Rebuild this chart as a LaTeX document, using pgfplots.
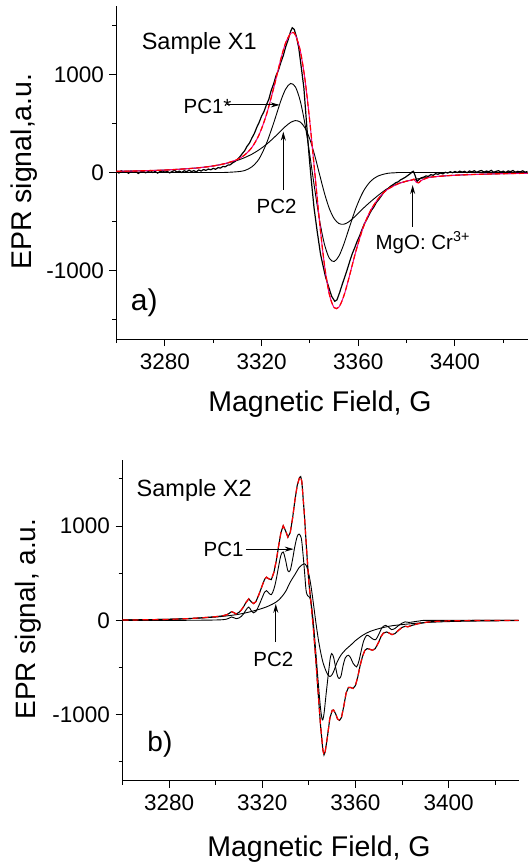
\documentclass[border=0pt]{standalone}
\usepackage{fontspec}
\setmainfont{Liberation Sans}
\usepackage{pgfplots}
\usepackage{pgfplotstable}
\pgfplotsset{compat=1.18}
\usetikzlibrary{arrows.meta}

% bottom panel: measured spectrum (the fit lies on top of it)
\pgfplotstableread{
x y
3260 3
3270 6
3280 11
3285 15
3290 21
3295 29
3300 39
3303 48
3305 62
3306 78
3306.8 92
3307.8 82
3308.8 68
3310 85
3311 110
3312 145
3313 190
3314.2 228
3315.3 196
3316.3 178
3317.3 200
3318.5 270
3320 370
3321 435
3321.8 458
3322.8 440
3323.9 432
3325 510
3326 630
3327 785
3328 930
3329 1003
3330 950
3331 882
3332 930
3333 1080
3334 1270
3335 1430
3336 1515
3336.5 1524
3337 1470
3338 1150
3339 760
3340 400
3341 170
3342 -100
3343 -420
3344 -770
3345 -1110
3346 -1370
3346.5 -1426
3347 -1395
3348 -1230
3349 -1040
3350 -955
3350.6 -950
3351.5 -990
3352.3 -1045
3353.2 -1060
3354 -1030
3355 -910
3356 -770
3357 -712
3358 -712
3359 -722
3360 -690
3361 -600
3362 -480
3363 -385
3364 -320
3365 -300
3366 -305
3367.3 -317
3368.5 -300
3370 -230
3371 -170
3372 -135
3373.4 -123
3374.5 -135
3375.7 -151
3377 -140
3378.5 -105
3380 -75
3381.3 -63
3382.5 -68
3384 -55
3387 -35
3391 -18
3395 -10
3400 -5
3410 -2
3420 -1
3430 0
}\expB

\pgfplotsset{
  eprpanel/.style={
    scale only axis,
    axis lines=left,
    axis line style={-, line width=1pt},
    xmin=3260, xmax=3430, ymin=-1700, ymax=1700,
    xtick={3280,3320,3360,3400},
    xticklabels={3280,3320,3360,3400},
    minor xtick={3260,3300,3340,3380,3420},
    ytick={-1000,0,1000},
    yticklabels={-1000,0,1000},
    minor ytick={-1500,-500,500,1500},
    tick align=outside,
    major tick length=7pt, minor tick length=4pt,
    tick style={black, line width=1pt},
    tick label style={font=\fontsize{22.5}{24}\selectfont},
    xticklabel style={yshift=-4pt},
    yticklabel style={xshift=-2pt},
    clip=false,
  },
  comp/.style={black, line width=0.9pt, smooth},
}

\begin{document}
\begin{tikzpicture}
\path[use as bounding box] (0pt,0pt) rectangle (529pt,-865pt);

% ---------- panel a ----------
\begin{axis}[eprpanel, width=411pt, height=333pt,
  at={(116.5pt,-339pt)}, anchor=south west]
% measured
\addplot[black, line width=1.2pt] coordinates {
(3260,12)(3261,-5)(3262,18)(3263,4)(3264,9)(3265,-8)(3266,15)(3267,2)(3268,10)(3269,-10)
(3270,6)(3271,14)(3272,-3)(3273,8)(3274,20)(3275,0)(3276,11)(3277,-6)(3278,9)(3279,16)
(3280,3)(3281,12)(3282,-4)(3283,10)(3284,22)(3285,5)(3286,14)(3287,0)(3288,18)(3289,8)
(3290,24)(3291,10)(3292,19)(3293,6)(3294,26)(3295,15)(3296,30)(3297,22)(3298,35)(3299,28)
(3300,42)(3301,33)(3302,50)(3303,45)(3304,62)(3305,58)(3306,75)(3307,78)(3308,98)(3309,112)
(3310,135)(3311,160)(3312,192)(3313,222)(3314,268)(3315,300)(3316,352)(3317,398)(3318,460)(3319,512)
(3320,575)(3321,622)(3322,690)(3323,748)(3324,838)(3325,905)(3326,990)(3327,1045)(3328,1125)(3329,1195)
(3330,1285)(3331,1355)(3332,1440)(3332.7,1478)(3333.5,1462)(3334.5,1380)(3335.4,1270)(3336.5,1060)(3337.5,865)
(3338.5,540)(3339.6,190)(3340.5,-60)(3341.7,-360)(3343,-600)(3344.4,-835)(3345.5,-960)(3346.5,-1070)
(3347.9,-1180)(3349,-1265)(3350.3,-1315)(3351.2,-1300)(3352.3,-1225)(3353.4,-1140)(3354.5,-1060)
(3355.5,-985)(3356.5,-905)(3357.5,-830)(3358.5,-770)(3359.5,-705)(3360.5,-650)(3361.5,-585)
(3362.5,-525)(3363.5,-480)(3364.5,-430)(3365.5,-385)(3366.5,-350)(3367.5,-305)(3368.5,-275)
(3369.5,-240)(3370.5,-205)(3371.5,-180)(3372.5,-160)(3373.5,-138)(3374.5,-122)(3375.5,-105)
(3376.5,-95)(3377.5,-75)(3378.5,-62)(3379.5,-48)(3380.5,-30)(3381.5,-12)(3382.3,8)(3382.8,12)
(3383.5,-30)(3384.3,-92)(3385,-75)(3386,-55)(3387,-48)(3388,-35)(3389,-40)(3390,-22)(3391,-28)
(3392,-12)(3393,-18)(3394,-5)(3395,-14)(3396,2)(3397,-6)(3398,8)(3399,-2)(3400,10)(3401,0)
(3402,14)(3403,4)(3404,12)(3405,-2)(3406,16)(3407,6)(3408,18)(3409,2)(3410,14)(3411,20)
(3412,4)(3413,15)(3414,8)(3415,22)(3416,2)(3417,12)(3418,18)(3419,5)(3420,14)(3421,0)
(3422,16)(3423,8)(3424,20)(3425,3)(3426,12)(3427,6)(3428,17)(3429,4)(3430,10)
};
% PC1*
\addplot[comp] coordinates {
(3260,0)(3300,0)(3305,1)(3310,8)(3313,20)(3316,58)(3319,140)(3322,295)(3325,505)(3328,734)
(3330,853)(3332,909)(3334,874)(3336,731)(3338,488)(3340,171)(3342,-171)(3344,-488)(3346,-731)
(3348,-874)(3350,-909)(3352,-853)(3354,-734)(3356,-585)(3359,-365)(3362,-197)(3365,-92)
(3368,-38)(3372,-9)(3376,-2)(3380,0)(3430,0)
};
% PC2
\addplot[comp] coordinates {
(3260,12)(3270,17)(3280,25)(3290,40)(3295,51)(3300,67)(3305,91)(3310,124)(3313,152)(3316,187)
(3319,232)(3322,287)(3325,353)(3328,426)(3330,473)(3332,511)(3334,530)(3336,515)(3338,454)
(3340,338)(3342,173)(3344,-20)(3346,-210)(3348,-366)(3350,-470)(3352,-521)(3354,-528)
(3356,-505)(3359,-441)(3362,-367)(3365,-300)(3368,-238)(3370,-200)(3372,-165)(3376,-118)
(3380,-88)(3385,-63)(3390,-47)(3395,-36)(3400,-28)(3410,-18)(3420,-12)(3430,-8)
};
% fit
\pgfplotstableread{
x y
3260 12
3270 17
3280 25
3290 40
3295 51
3300 67
3305 92
3310 133
3313 179
3316 256
3319 387
3322 589
3325 861
3328 1160
3330 1326
3332 1420
3333 1430
3334 1404
3336 1246
3338 942
3340 509
3342 2
3344 -508
3346 -941
3348 -1240
3350 -1379
3352 -1374
3354 -1262
3356 -1090
3359 -806
3362 -564
3365 -392
3368 -276
3370 -218
3372 -174
3376 -120
3380 -88
3382 -78
3383 -68
3384 -100
3385 -105
3386 -82
3388 -60
3390 -47
3395 -36
3400 -28
3410 -18
3420 -12
3430 -8
}\fitA
\addplot[magenta, line width=1pt, smooth] table {\fitA};
\addplot[red, line width=1.2pt, smooth, dash pattern=on 5pt off 3pt] table {\fitA};

\node[anchor=base west, font=\fontsize{23.5}{25}\selectfont] at (axis cs:3269,1261) {Sample X1};
\node[anchor=base west, font=\fontsize{30}{32}\selectfont] at (axis cs:3264.5,-1404) {a)};
\node[anchor=base west, font=\fontsize{20.5}{22}\selectfont] at (axis cs:3286.3,604) {PC1*};
\draw[line width=0.9pt, -{Stealth[length=9pt,width=5pt]}] (axis cs:3305.6,690) -- (axis cs:3327.5,690);
\node[anchor=base west, font=\fontsize{20.5}{22}\selectfont] at (axis cs:3316.5,-420) {PC2};
\draw[line width=0.9pt, -{Stealth[length=9pt,width=5pt]}] (axis cs:3329,-179) -- (axis cs:3329,417);
\node[anchor=base west, font=\fontsize{20.5}{22}\selectfont] at (axis cs:3365.7,-784) {MgO: Cr\textsuperscript{3+}};
\draw[line width=0.9pt, -{Stealth[length=9pt,width=5pt]}] (axis cs:3382.5,-556) -- (axis cs:3382.5,-128);
\end{axis}

% ---------- panel b ----------
\begin{axis}[eprpanel, width=396pt, height=320.7pt,
  at={(122.5pt,-780.7pt)}, anchor=south west]
\addplot[black, line width=1.1pt] table {\expB};
% PC1
\addplot[comp] coordinates {
(3260,0)(3280,0)(3290,1)(3295,2)(3300,4)(3303,7)(3305,15)(3306,27)(3306.8,36)(3307.8,28)
(3308.8,18)(3310,25)(3311,42)(3312,70)(3313,110)(3314.2,141)(3315.3,102)(3316.3,80)(3317.3,95)
(3318.5,154)(3320,243)(3321,299)(3321.8,315)(3322.8,290)(3323.9,272)(3325,332)(3326,435)
(3327,570)(3328,690)(3329,725)(3330,640)(3331,525)(3332,530)(3333,645)(3334,785)(3335,890)
(3335.8,915)(3336.5,890)(3337,830)(3338,560)(3338.8,320)(3339.5,262)(3340.3,245)(3341,180)
(3342,-40)(3343,-340)(3344,-650)(3345,-930)(3345.8,-1056)(3346.5,-990)(3347.5,-760)
(3348.5,-540)(3349.2,-400)(3349.8,-352)(3350.6,-390)(3351.5,-500)(3352.3,-590)(3353,-616)
(3353.8,-590)(3354.7,-480)(3355.7,-395)(3357,-370)(3358,-400)(3359,-455)(3360.5,-493)
(3361.5,-430)(3362.5,-320)(3363.5,-220)(3364.8,-158)(3366,-170)(3367.3,-195)(3368.7,-204)
(3370,-150)(3371,-95)(3372,-62)(3373,-53)(3374.2,-70)(3375.5,-98)(3377,-85)(3378.5,-55)
(3380,-30)(3381.3,-16)(3383,-22)(3385,-15)(3388,-5)(3392,0)(3430,0)
};
% PC2
\addplot[comp] coordinates {
(3260,5)(3270,8)(3280,12)(3290,20)(3300,35)(3305,48)(3310,65)(3315,92)(3320,127)(3323,155)
(3326,195)(3328,240)(3330,305)(3332,405)(3334,485)(3336,565)(3338,600)(3339,575)(3340,490)
(3341,350)(3342,170)(3343,-20)(3344,-190)(3345,-330)(3346,-440)(3347,-515)(3348,-570)
(3349,-595)(3350,-575)(3351,-520)(3352,-450)(3353,-400)(3354,-360)(3356,-305)(3358,-262)
(3360,-215)(3363,-160)(3366,-120)(3370,-88)(3375,-60)(3380,-45)(3385,-33)(3390,-23)
(3400,-13)(3410,-8)(3420,-5)(3430,-3)
};
\addplot[red, line width=1.2pt, dash pattern=on 6pt off 4pt] table {\expB};

\node[anchor=base west, font=\fontsize{23.5}{25}\selectfont] at (axis cs:3264.6,1311) {Sample X2};
\node[anchor=base west, font=\fontsize{28}{30}\selectfont] at (axis cs:3269.2,-1392) {b)};
\node[anchor=base west, font=\fontsize{20.5}{22}\selectfont] at (axis cs:3293.3,675) {PC1};
\draw[line width=0.9pt, -{Stealth[length=9pt,width=5pt]}] (axis cs:3313,755) -- (axis cs:3333.5,755);
\node[anchor=base west, font=\fontsize{20.5}{22}\selectfont] at (axis cs:3314.7,-484) {PC2};
\draw[line width=0.9pt, -{Stealth[length=9pt,width=5pt]}] (axis cs:3325.8,-230) -- (axis cs:3325.8,175);
\end{axis}

% axis titles
\node[anchor=base, font=\fontsize{28.5}{30}\selectfont] at (320pt,-411.7pt) {Magnetic Field, G};
\node[anchor=base, font=\fontsize{28.5}{30}\selectfont] at (319pt,-856.7pt) {Magnetic Field, G};
\node[anchor=base, rotate=90, font=\fontsize{28.5}{30}\selectfont] at (31.7pt,-171.7pt) {EPR signal,a.u.};
\node[anchor=base, rotate=90, font=\fontsize{28}{30}\selectfont] at (35pt,-619pt) {EPR signal, a.u.};
\end{tikzpicture}
\end{document}
